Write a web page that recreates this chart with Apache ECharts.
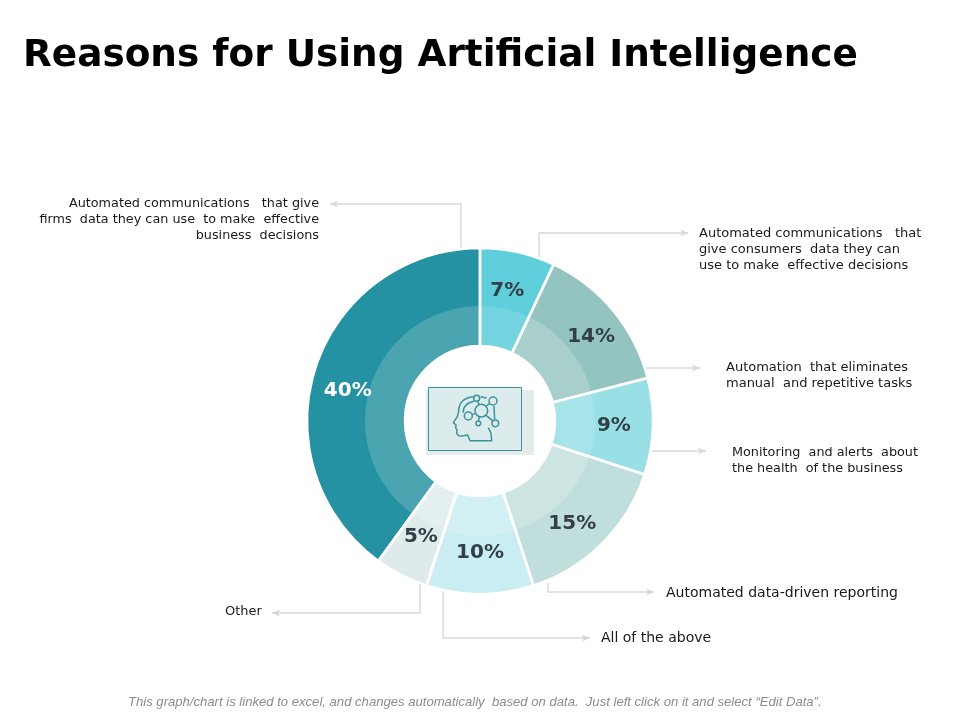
<!DOCTYPE html>
<html>
<head>
<meta charset="utf-8">
<style>
    html, body {margin: 0; padding: 0; background: #fff;}
    #main {width: 960px; height: 720px;}
</style>
<script src="https://cdn.jsdelivr.net/npm/echarts@6/dist/echarts.min.js"></script>
</head>
<body>
<div id="main"></div>
<script>
var categories = [
    'Automated communications  that give consumers  data they can use to make  effective decisions',
    'Automation  that eliminates manual  and repetitive tasks',
    'Monitoring  and alerts  about the health  of the business',
    'Automated data-driven reporting',
    'All of the above',
    'Other',
    'Automated communications  that give firms  data they can use  to make  effective business  decisions'
];
var values = [7, 14, 9, 15, 10, 5, 40];

var outerColors = ['#5fcfdc', '#94c4c0', '#98dfe6', '#c0dedb', '#c9edf2', '#dfebeb', '#2492a2'];
var innerColors = ['#74d5e0', '#a8cfcb', '#a6e4ea', '#cde5e2', '#d3f1f4', '#e4efef', '#4ba5b1'];
var labelColors = ['#333f48', '#333f48', '#333f48', '#333f48', '#333f48', '#333f48', '#ffffff'];
// the slide's percent labels are placed by hand, nudge them off the ring middle
var labelNudges = [[-3, 5], [4, 4], [-5, 0], [-6, 5], [0, -7], [4, -8], [0, 13]];

// callout text split the way the slide wraps it
var calloutLines = [
    ['Automated communications   that', 'give consumers  data they can', 'use to make  effective decisions'],
    ['Automation  that eliminates', 'manual  and repetitive tasks'],
    ['Monitoring  and alerts  about', 'the health  of the business'],
    ['Automated data-driven reporting'],
    ['All of the above'],
    ['Other'],
    ['Automated communications   that give', 'firms  data they can use  to make  effective', 'business  decisions']
];
var calloutPaths = [
    [[539, 258], [539, 233], [688, 233]],
    [[646, 368], [700, 368]],
    [[652, 451], [706, 451]],
    [[548, 583], [548, 592], [654, 592]],
    [[443, 588], [443, 638], [590, 638]],
    [[420, 584], [420, 613], [272, 613]],
    [[461, 250], [461, 204], [330, 204]]
];
var calloutText = [
    {x: 699, y: 234, align: 'left', size: 13},
    {x: 726, y: 368, align: 'left', size: 13},
    {x: 732, y: 453, align: 'left', size: 12.8},
    {x: 666, y: 593, align: 'left', size: 14},
    {x: 601, y: 638, align: 'left', size: 14},
    {x: 225, y: 612, align: 'left', size: 13},
    {x: 319, y: 204, align: 'right', size: 12.8}
];

function sliceData(colors) {
    return values.map(function (v, i) {
        return {value: v, name: categories[i], itemStyle: {color: colors[i]}};
    });
}

var graphics = [];

graphics.push({
    type: 'text', x: 23, y: 56,
    style: {text: 'Reasons for Using Artificial Intelligence', fill: '#000',
        font: 'bold 37.4px "DejaVu Sans"', textVerticalAlign: 'middle'}
});
graphics.push({
    type: 'text', x: 128, y: 702,
    style: {text: 'This graph/chart is linked to excel, and changes automatically  based on data.  Just left click on it and select \u201CEdit Data\u201D.',
        fill: '#8c8c8c', font: 'italic 13.1px "Liberation Sans"', textVerticalAlign: 'middle'}
});

calloutPaths.forEach(function (p, i) {
    var end = p[p.length - 1], prev = p[p.length - 2];
    var dir = end[0] > prev[0] ? 1 : -1;
    graphics.push({
        type: 'polyline',
        shape: {points: p},
        style: {stroke: '#d9d9d9', lineWidth: 1.4, fill: null}
    });
    graphics.push({
        type: 'polygon',
        shape: {points: [[end[0], end[1]], [end[0] - dir * 8, end[1] - 3.5], [end[0] - dir * 6, end[1]], [end[0] - dir * 8, end[1] + 3.5]]},
        style: {fill: '#d9d9d9'}
    });
    calloutLines[i].forEach(function (line, k) {
        graphics.push({
            type: 'text',
            x: calloutText[i].x,
            y: calloutText[i].y + k * 16,
            style: {text: line, fill: '#1a1a1a', font: calloutText[i].size + 'px "DejaVu Sans"',
                textAlign: calloutText[i].align, textVerticalAlign: 'middle'}
        });
    });
});

// centre picture, head drawn in a 3x box and scaled down
var iconStroke = {stroke: '#3a939c', lineWidth: 4.5, fill: null, lineJoin: 'round'};
function iconLine(points) {
    return {type: 'polyline', shape: {points: points}, style: iconStroke};
}
graphics.push({type: 'rect', shape: {x: 426, y: 390, width: 108, height: 65}, style: {fill: '#e4ebeb'}});
graphics.push({type: 'rect', shape: {x: 428.5, y: 387.5, width: 93, height: 63},
    style: {fill: '#dcebeb', stroke: '#3a939c', lineWidth: 1}});
graphics.push({
    type: 'group', x: 420, y: 380, scaleX: 1 / 3, scaleY: 1 / 3,
    children: [
        {type: 'bezierCurve', shape: {x1: 160, y1: 50, cpx1: 130, cpy1: 52, cpx2: 115, cpy2: 72, x2: 116, y2: 95}, style: iconStroke},
        iconLine([[116, 95], [112, 110], [100, 128], [108, 135], [107, 143], [111, 150], [110, 160], [116, 167], [127, 168], [143, 165], [150, 182], [215, 182], [213, 160], [205, 143]]),
        {type: 'bezierCurve', shape: {x1: 162, y1: 64, cpx1: 140, cpy1: 68, cpx2: 128, cpy2: 82, x2: 130, y2: 98}, style: iconStroke},
        iconLine([[182, 50], [200, 54]]),
        iconLine([[222, 78], [224, 118]]),
        iconLine([[178, 110], [176, 122]]),
        iconLine([[198, 106], [218, 122]]),
        iconLine([[156, 104], [166, 100]]),
        iconLine([[172, 64], [178, 74]]),
        iconLine([[198, 78], [210, 70]]),
        {type: 'circle', shape: {cx: 184, cy: 92, r: 19}, style: iconStroke},
        {type: 'circle', shape: {cx: 219, cy: 63, r: 12}, style: iconStroke},
        {type: 'circle', shape: {cx: 170, cy: 55, r: 9}, style: iconStroke},
        {type: 'circle', shape: {cx: 145, cy: 108, r: 12}, style: iconStroke},
        {type: 'circle', shape: {cx: 226, cy: 130, r: 10}, style: iconStroke},
        {type: 'circle', shape: {cx: 175, cy: 130, r: 7}, style: iconStroke}
    ]
});

function ring(radius, data) {
    return {
        type: 'pie',
        center: [480, 421],
        radius: radius,
        startAngle: 90,
        clockwise: true,
        silent: true,
        animation: false,
        avoidLabelOverlap: false,
        label: {show: false},
        labelLine: {show: false},
        data: data
    };
}

var labelRing = ring([101, 171], values.map(function (v, i) {
    return {
        value: v,
        itemStyle: {color: 'transparent'},
        label: {
            show: true, position: 'inside', formatter: '{c}%',
            color: labelColors[i], fontFamily: 'DejaVu Sans', fontWeight: 'bold', fontSize: 20
        }
    };
}));
labelRing.labelLayout = function (params) {
    return {dx: labelNudges[params.dataIndex][0], dy: labelNudges[params.dataIndex][1]};
};

var myChart = echarts.init(document.getElementById('main'));
var option = {
    animation: false,
    backgroundColor: '#ffffff',
    series: [
        ring([113, 173], sliceData(outerColors)),
        ring([75, 115], sliceData(innerColors)),
        // white cuts between the slices, over both bands
        ring([75, 173], values.map(function (v) {
            return {value: v, itemStyle: {color: 'transparent', borderColor: '#fff', borderWidth: 2.5}};
        })),
        // percent labels sit on a ring of their own
        labelRing
    ],
    graphic: graphics
};
myChart.setOption(option);
</script>
</body>
</html>
